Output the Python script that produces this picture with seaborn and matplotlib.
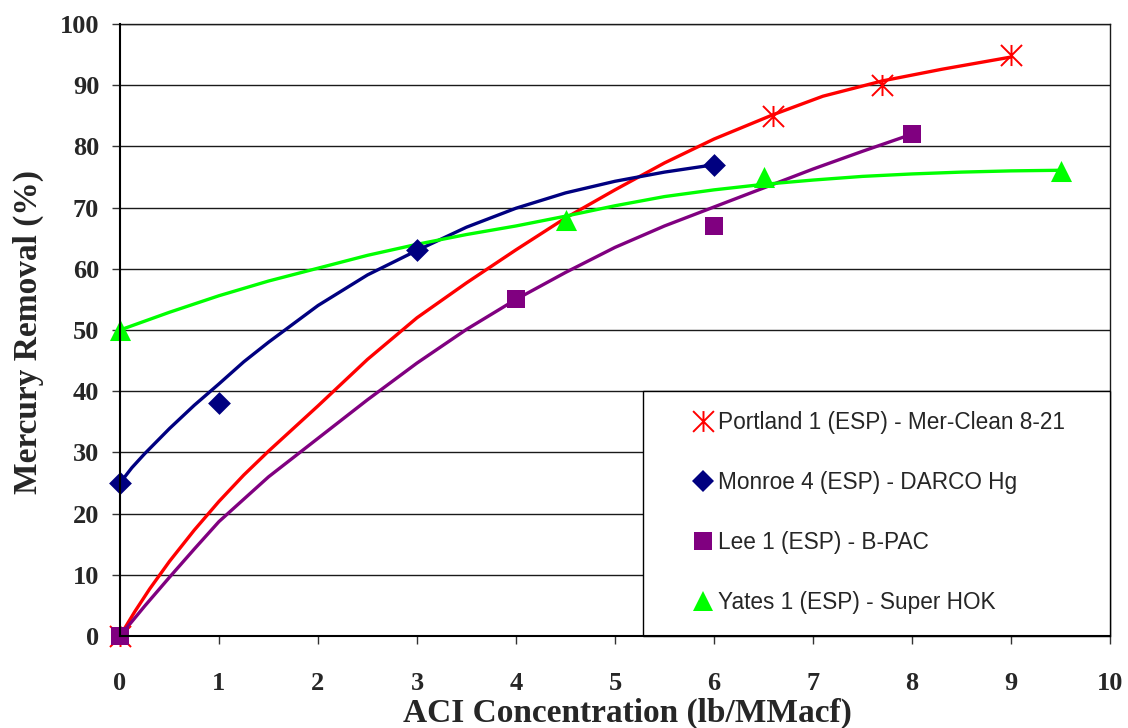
import numpy as np
import pandas as pd
import matplotlib
matplotlib.use("Agg")
import matplotlib.pyplot as plt
from matplotlib.path import Path
from matplotlib.markers import MarkerStyle
from matplotlib.lines import Line2D
from matplotlib.patches import Rectangle
import seaborn as sns

# ---------------- data ----------------
series_names = ["Portland 1 (ESP) - Mer-Clean 8-21",
                "Monroe 4 (ESP) - DARCO Hg",
                "Lee 1 (ESP) - B-PAC",
                "Yates 1 (ESP) - Super HOK"]

# measured points
portland_x = [0, 6.6, 7.7, 9]
portland_y = [0, 85, 90, 95]
monroe_x = [0, 1, 3, 6]
monroe_y = [25, 38, 63, 77]
lee_x = [0, 4, 6, 8]
lee_y = [0, 55, 67, 82]
yates_x = [0, 4.5, 6.5, 9.5]
yates_y = [50, 68, 75, 76]

# trend curves
portland_cx = [0, 0.15, 0.3, 0.5, 0.75, 1, 1.25, 1.5, 2, 2.5, 3, 3.5, 4, 4.5, 5, 5.5, 6, 6.6, 7.1, 7.7, 8.3, 9]
portland_cy = [0, 4.0, 7.7, 12.2, 17.3, 22, 26.3, 30.2, 37.6, 45.2, 52.0, 57.7, 63.1, 68.3, 72.9, 77.3, 81.2, 85.2, 88.2, 90.7, 92.6, 94.6]
monroe_cx = [0, 0.12, 0.25, 0.5, 0.75, 1, 1.25, 1.5, 2, 2.5, 3, 3.5, 4, 4.5, 5, 5.5, 6]
monroe_cy = [25, 27.5, 29.8, 33.9, 37.7, 41.2, 44.8, 48.0, 54, 59, 63, 66.8, 69.9, 72.4, 74.3, 75.8, 77]
lee_cx = [0, 0.25, 0.5, 0.75, 1, 1.5, 2, 2.5, 3, 3.5, 4, 4.5, 5, 5.5, 6, 6.5, 7, 7.5, 8]
lee_cy = [0, 4.9, 9.6, 14.2, 18.7, 26, 32.3, 38.6, 44.6, 50.1, 55, 59.4, 63.5, 67, 70.1, 73.2, 76.3, 79.2, 82]
yates_cx = [0, 0.5, 1, 1.5, 2, 2.5, 3, 3.5, 4, 4.5, 5, 5.5, 6, 6.5, 7, 7.5, 8, 8.5, 9, 9.5]
yates_cy = [50, 52.9, 55.6, 58, 60.1, 62.2, 64.0, 65.6, 67.0, 68.6, 70.3, 71.8, 72.9, 73.8, 74.5, 75.1, 75.5, 75.8, 76, 76.1]

x_ticks = list(range(0, 11))
y_ticks = list(range(0, 101, 10))
x_label = "ACI Concentration (lb/MMacf)"
y_label = "Mercury Removal (%)"

colors = ["#FF0000", "#000080", "#800080", "#00FF00"]

# ---------------- figure ----------------
sns.set_theme(style="white")
plt.rcParams["font.family"] = ["Liberation Serif", "DejaVu Serif"]
plt.rcParams["lines.solid_joinstyle"] = "round"

fig = plt.figure(figsize=(11.28, 7.28), dpi=100)
ax = fig.add_axes([120 / 1128, 1 - 636 / 728, 990 / 1128, 612 / 728])

curves = pd.concat([
    pd.DataFrame({"x": portland_cx, "y": portland_cy, "s": series_names[0]}),
    pd.DataFrame({"x": monroe_cx, "y": monroe_cy, "s": series_names[1]}),
    pd.DataFrame({"x": lee_cx, "y": lee_cy, "s": series_names[2]}),
    pd.DataFrame({"x": yates_cx, "y": yates_cy, "s": series_names[3]}),
])
sns.lineplot(data=curves, x="x", y="y", hue="s", hue_order=series_names,
             palette=colors, sort=False, estimator=None, linewidth=2.4,
             legend=False, ax=ax, zorder=3)

star = Path([(-1, -1), (1, 1), (-1, 1), (1, -1), (0, -1), (0, 1)],
            [Path.MOVETO, Path.LINETO, Path.MOVETO, Path.LINETO, Path.MOVETO, Path.LINETO])
star_marker = MarkerStyle(star)

sns.scatterplot(x=portland_x, y=portland_y, marker=star_marker, s=230,
                color=colors[0], edgecolor=colors[0], linewidth=1.4, ax=ax,
                zorder=5, clip_on=False)
sns.scatterplot(x=monroe_x, y=monroe_y, marker="D", s=135, color=colors[1],
                edgecolor=colors[1], linewidth=0, ax=ax, zorder=5, clip_on=False)
sns.scatterplot(x=lee_x, y=lee_y, marker="s", s=150, color=colors[2],
                edgecolor=colors[2], linewidth=0, ax=ax, zorder=5, clip_on=False)
sns.scatterplot(x=yates_x, y=yates_y, marker="^", s=230, color=colors[3],
                edgecolor=colors[3], linewidth=0, ax=ax, zorder=5, clip_on=False)

ax.set_xlim(0, 10)
ax.set_ylim(0, 100)
ax.set_xticks(x_ticks)
ax.set_yticks(y_ticks)
ax.set_xticklabels([str(v) for v in x_ticks])
ax.set_yticklabels([str(v) for v in y_ticks])
ax.yaxis.grid(True, color="#1a1a1a", linewidth=1.0)
ax.xaxis.grid(False)
ax.set_axisbelow(True)

for side in ["left", "bottom"]:
    ax.spines[side].set_color("black")
    ax.spines[side].set_linewidth(1.5)
for side in ["top", "right"]:
    ax.spines[side].set_color("#1a1a1a")
    ax.spines[side].set_linewidth(1.0)
ax.spines["left"].set_zorder(6)
ax.spines["bottom"].set_zorder(6)

ax.tick_params(axis="both", which="major", direction="out", length=6, width=1,
               color="#333333", labelsize=19, left=True, bottom=True)
ax.tick_params(axis="x", pad=20)
ax.tick_params(axis="y", pad=9)
for lab in ax.get_xticklabels() + ax.get_yticklabels():
    lab.set_fontweight("bold")

ax.set_xlabel(x_label, fontsize=24, fontweight="bold")
ax.set_ylabel(y_label, fontsize=24, fontweight="bold")
ax.xaxis.set_label_coords((627 - 120) / 990, (636 - 698) / 612)
ax.yaxis.set_label_coords((44 - 120) / 990, (636 - 332) / 612)

# legend box
ax.add_patch(Rectangle(((643 - 120) / 990, 0), (1110 - 643) / 990, (636 - 391) / 612,
                       transform=ax.transAxes, facecolor="white",
                       edgecolor="black", linewidth=1.0, zorder=4, clip_on=False))

handles = [
    Line2D([], [], linestyle="none", marker=star_marker, markersize=15,
           markeredgecolor=colors[0], markerfacecolor=colors[0], markeredgewidth=1.4),
    Line2D([], [], linestyle="none", marker="D", markersize=11,
           markeredgecolor=colors[1], markerfacecolor=colors[1], markeredgewidth=0),
    Line2D([], [], linestyle="none", marker="s", markersize=12.5,
           markeredgecolor=colors[2], markerfacecolor=colors[2], markeredgewidth=0),
    Line2D([], [], linestyle="none", marker="^", markersize=15,
           markeredgecolor=colors[3], markerfacecolor=colors[3], markeredgewidth=0),
]
leg = ax.legend(handles, series_names, loc="upper left",
                bbox_to_anchor=((692 - 120) / 990, (636 - 411) / 612),
                frameon=False, borderpad=0, borderaxespad=0,
                handlelength=1.0, handletextpad=0.15, labelspacing=1.64,
                prop={"family": ["Liberation Sans", "DejaVu Sans"], "size": 16.3})
leg.set_zorder(7)

fig.savefig("out.png", dpi=100, facecolor="white")
